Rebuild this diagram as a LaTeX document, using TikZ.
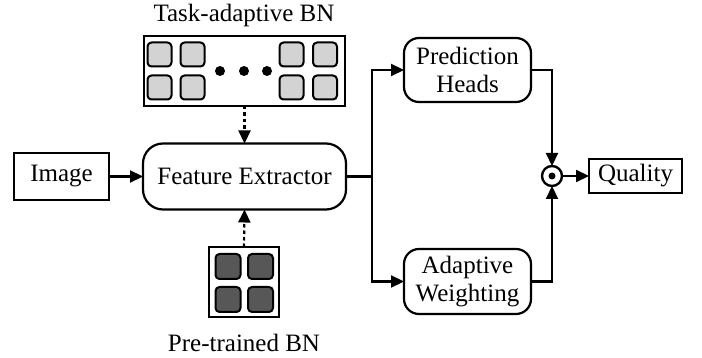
\documentclass[tikz,border=0pt]{standalone}
\usepackage{fontspec}
\setmainfont{Liberation Serif}
\usetikzlibrary{arrows.meta}
\definecolor{lightsq}{HTML}{D3D3D3}
\definecolor{darksq}{HTML}{575757}
\begin{document}
\begin{tikzpicture}[x=1pt,y=-1pt,
  every node/.style={font=\fontsize{25}{28}\selectfont, inner sep=0pt, outer sep=0pt},
  box/.style={draw, line width=2.2pt, align=center},
  rbox/.style={box, rounded corners=#1},
  arr/.style={line width=2.2pt, -{Triangle[length=13pt,width=12pt]}},
  dsh/.style={arr, dash pattern=on 3.5pt off 3pt},
  sqlight/.style={line width=2pt, rounded corners=4pt, fill=lightsq},
  sqdark/.style={line width=2pt, rounded corners=4pt, fill=darksq},
]
\useasboundingbox (0,0) rectangle (702,358);
\node[box, minimum width=95pt, minimum height=47pt] (img) at (61.5,176.5) {Image};
\node[rbox=20pt, minimum width=203pt, minimum height=66pt] (fe) at (244.5,176.5) {Feature Extractor};
\node[box, minimum width=201pt, minimum height=70pt] (ta) at (244.5,71) {};
\node[box, minimum width=70pt, minimum height=70pt] (pt) at (244,282) {};
\node (tatitle) at (244,15) {Task-adaptive BN};
\node (pttitle) at (244,343) {Pre-trained BN};
\node[rbox=15pt, minimum width=127pt, minimum height=64pt] (ph) at (467.5,70) {Prediction\\Heads};
\node[rbox=15pt, minimum width=127pt, minimum height=65pt] (aw) at (467.5,281.5) {Adaptive\\Weighting};
\node[box, minimum width=93pt, minimum height=34pt] (q) at (635.5,176) {Quality};
\node[draw, circle, line width=2.4pt, minimum size=20pt] (od) at (552,176) {};
\fill (od.center) circle (3.5pt);
% task-adaptive squares
\foreach \cx in {159.5,192.5,291.5,325}{
  \foreach \cy in {54.5,87.5}{
    \draw[sqlight] (\cx-12,\cy-12) rectangle (\cx+12,\cy+12);
  }
}
\foreach \dx in {220,244,267}{\fill (\dx,71) circle (5pt);}
% pre-trained squares
\foreach \cx in {228,260.5}{
  \foreach \cy in {266.5,299.5}{
    \draw[sqdark] (\cx-12.5,\cy-12.5) rectangle (\cx+12.5,\cy+12.5);
  }
}
\coordinate (br) at (372,176.5);
\draw[arr] (img) -- (fe);
\draw[dsh] (ta.south) -- (fe.north);
\draw[dsh] (pt.north) -- (fe.south);
\draw[line width=2.2pt] (fe.east) -- (br);
\draw[arr] (br) |- (ph.west);
\draw[arr] (br) |- (aw.west);
\draw[arr] (ph.east) -| (od.north);
\draw[arr] (aw.east) -| (od.south);
\draw[arr] (od.east) -- (q.west);
\end{tikzpicture}
\end{document}
